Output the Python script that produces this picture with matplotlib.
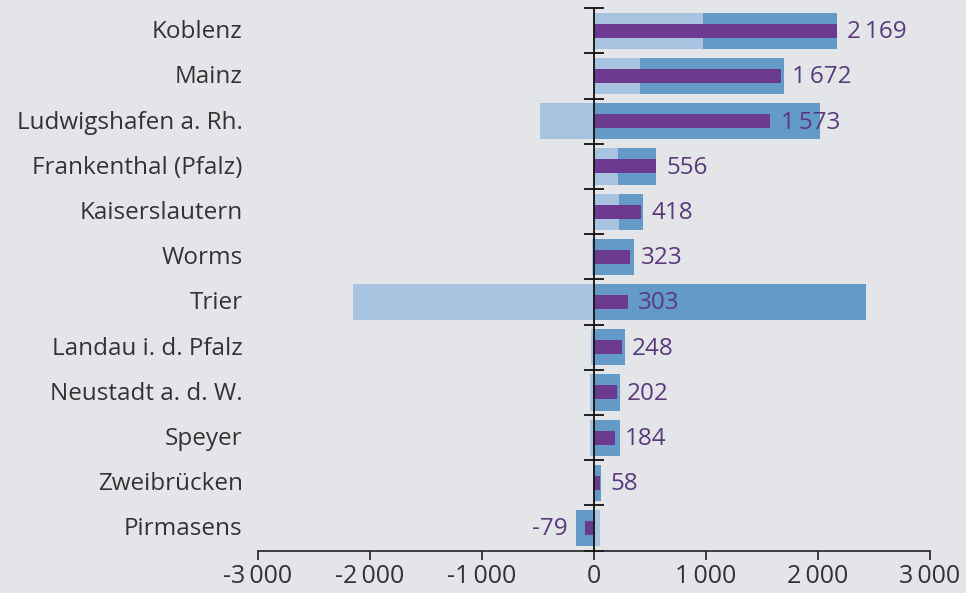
import numpy as np
import matplotlib
matplotlib.use("Agg")
import matplotlib.pyplot as plt
from matplotlib.ticker import FuncFormatter
import matplotlib.transforms as mtransforms

# Daten (von oben nach unten)
staedte = ["Koblenz", "Mainz", "Ludwigshafen a. Rh.", "Frankenthal (Pfalz)",
           "Kaiserslautern", "Worms", "Trier", "Landau i. d. Pfalz",
           "Neustadt a. d. W.", "Speyer", "Zweibrücken", "Pirmasens"]
saldo = [2169, 1672, 1573, 556, 418, 323, 303, 248, 202, 184, 58, -79]
komp_hell = [970, 410, -480, 210, 220, -20, -2150, -25, -35, -40, -7, 50]
komp_mittel = [1199, 1290, 2015, 346, 217, 355, 2425, 275, 232, 232, 65, -160]
x_ticks = [-3000, -2000, -1000, 0, 1000, 2000, 3000]

BG = "#E3E5E8"
HELL = "#A8C3E0"
MITTEL = "#639AC7"
LILA = "#6B3A8E"
TEXT_LILA = "#5A3A7C"
TEXT = "#333333"

plt.rcParams["font.family"] = ["Open Sans", "DejaVu Sans"]

fig = plt.figure(figsize=(9.66, 5.93), dpi=100, facecolor=BG)
ax = fig.add_axes([0.2671, 0.0715, 0.6956, 0.9145])
ax.set_facecolor(BG)

y = np.arange(len(staedte))
hell = np.array(komp_hell)
mittel = np.array(komp_mittel)

# gestapelt: positive nach rechts, negative nach links
left_hell = np.zeros(len(y))
left_mittel = np.where((hell > 0) & (mittel > 0), hell, 0)
left_mittel = np.where((hell < 0) & (mittel < 0), hell, left_mittel)

ax.barh(y, hell, left=left_hell, height=0.8, color=HELL, zorder=2)
ax.barh(y, mittel, left=left_mittel, height=0.8, color=MITTEL, zorder=2)
ax.barh(y, saldo, height=0.31, color=LILA, zorder=3)

# Werte
for yi, v, h, m in zip(y, saldo, hell, mittel):
    txt = f"{abs(v):,}".replace(",", "\u2009")
    if v < 0:
        txt = "-" + txt
        xmin = min(v, h + m if h < 0 and m < 0 else min(h, m))
        ax.annotate(txt, (xmin, yi), xytext=(-6, -1), textcoords="offset points",
                    ha="right", va="center", fontsize=17.5, color=TEXT_LILA, zorder=4)
    else:
        ax.annotate(txt, (v, yi), xytext=(7.5, -1), textcoords="offset points",
                    ha="left", va="center", fontsize=17.5, color=TEXT_LILA, zorder=4)

# Kategorienbeschriftung links
trans = mtransforms.blended_transform_factory(ax.transAxes, ax.transData)
for yi, name in zip(y, staedte):
    ax.annotate(name, (0, yi), xycoords=trans, xytext=(-11, -1),
                textcoords="offset points", ha="right", va="center",
                fontsize=17.5, color=TEXT)

ax.set_xlim(-3000, 3000)
ax.set_ylim(len(staedte) - 0.5, -0.5)

for s in ["top", "right"]:
    ax.spines[s].set_visible(False)
ax.spines["left"].set_position(("data", 0))
ax.spines["left"].set_zorder(5)
ax.spines["left"].set_color("#111111")
ax.spines["left"].set_linewidth(1.3)
ax.spines["bottom"].set_color("#222222")
ax.spines["bottom"].set_linewidth(1.2)

ax.set_yticks(np.arange(len(staedte) + 1) - 0.5)
ax.tick_params(axis="y", direction="inout", length=14, width=1.3,
               color="#111111", labelleft=False)
ax.set_xticks(x_ticks)
ax.xaxis.set_major_formatter(FuncFormatter(
    lambda v, p: ("-" if v < 0 else "") + f"{abs(int(v)):,}".replace(",", "\u2009")))
ax.tick_params(axis="x", direction="out", length=6.5, width=1.2,
               color="#222222", labelsize=18, labelcolor=TEXT, pad=3)

fig.savefig("out.png", dpi=100, facecolor=BG)
